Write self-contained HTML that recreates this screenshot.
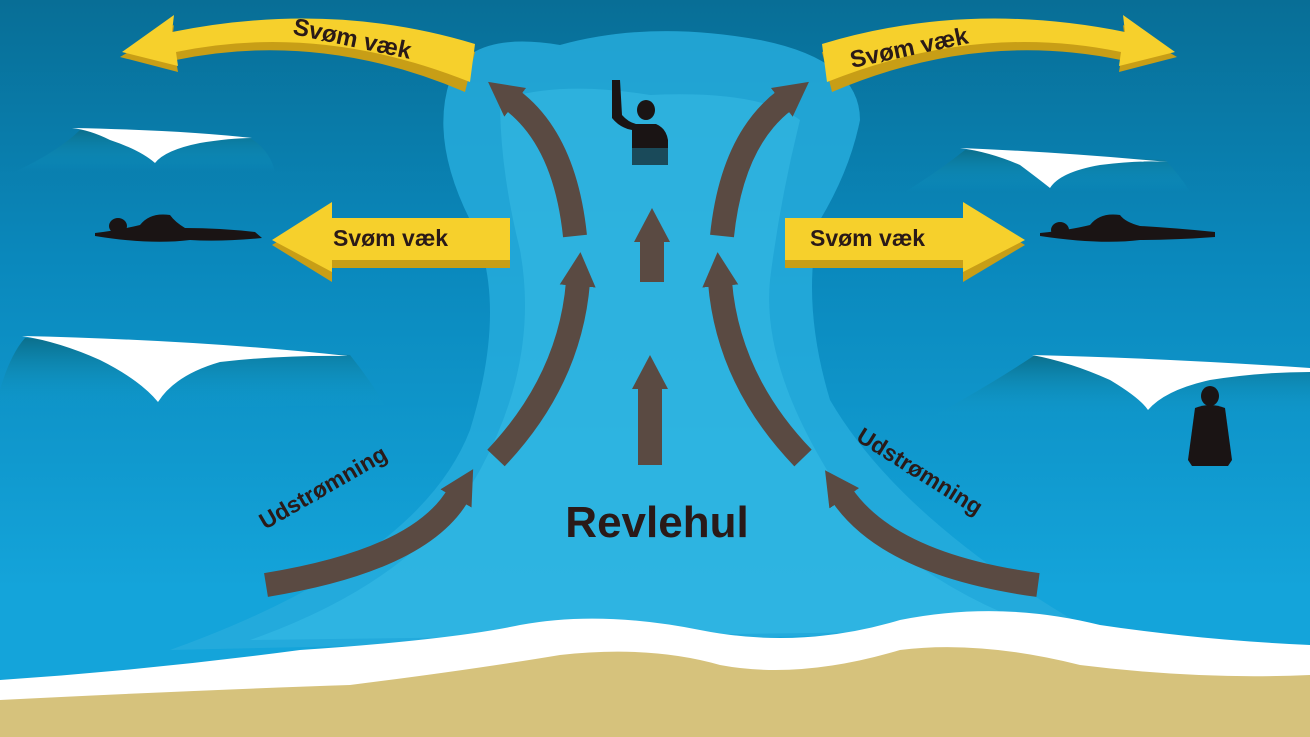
<!DOCTYPE html>
<html><head><meta charset="utf-8"><style>
html,body{margin:0;padding:0;width:1310px;height:737px;overflow:hidden}
svg{display:block}
text{font-family:"Liberation Sans","DejaVu Sans",sans-serif;font-weight:bold;fill:#2a1a18}
</style></head><body>
<svg width="1310" height="737" viewBox="0 0 1310 737" xmlns="http://www.w3.org/2000/svg">
<defs>
<linearGradient id="sea" x1="0" y1="0" x2="0" y2="1">
<stop offset="0" stop-color="#086e96"/>
<stop offset="0.35" stop-color="#0a88bc"/>
<stop offset="0.8" stop-color="#14a4da"/>
</linearGradient>
<linearGradient id="wv" x1="0" y1="0" x2="0" y2="1">
<stop offset="0" stop-color="#0b6f8c"/>
<stop offset="1" stop-color="#12a0d0" stop-opacity="0"/>
</linearGradient>
<marker id="ah" markerUnits="userSpaceOnUse" markerWidth="50" markerHeight="50" refX="4" refY="20" orient="auto">
<path d="M0,2 L34,20 L0,38 Z" fill="#5a4a42"/>
</marker>
</defs>
<rect width="1310" height="737" fill="url(#sea)"/>
<!-- rip channel -->
<path d="M450,80 Q470,30 560,45 Q650,20 760,40 Q860,60 860,120 Q850,170 820,220 Q800,300 830,400 Q900,520 1090,630 L170,650 Q420,560 470,430 Q510,300 470,220 Q430,140 450,80 Z" fill="#26acdc" opacity="0.85"/>
<path d="M500,100 Q560,80 650,95 Q760,90 800,120 Q780,200 770,280 Q760,380 860,520 Q950,600 1050,630 L250,640 Q420,580 480,470 Q540,360 520,250 Q500,170 500,100 Z" fill="#3cc0e8" opacity="0.45"/>
<!-- waves -->
<path d="M15,172 Q60,150 80,130 L250,138 Q270,150 275,172 Z" fill="url(#wv)"/>
<path d="M72,128 Q90,130 110,140 Q140,150 155,163 Q165,150 200,143 Q230,138 252,138 Q180,130 72,128 Z" fill="#fff"/>
<path d="M905,192 Q940,170 965,150 L1165,160 Q1180,175 1190,192 Z" fill="url(#wv)"/>
<path d="M960,148 Q990,152 1020,165 Q1040,180 1050,188 Q1060,172 1100,165 Q1140,160 1168,162 Q1060,152 960,148 Z" fill="#fff"/>
<path d="M0,390 Q10,355 25,338 L350,355 Q370,380 385,405 L0,410 Z" fill="url(#wv)"/>
<path d="M22,336 Q60,342 100,360 Q140,380 158,402 Q175,375 220,362 Q280,355 348,356 Q200,340 22,336 Z" fill="#fff"/>
<path d="M935,415 Q990,385 1035,355 L1310,370 L1310,420 Z" fill="url(#wv)"/>
<path d="M1032,355 Q1070,362 1110,380 Q1140,398 1148,410 Q1165,390 1210,380 Q1260,372 1310,372 L1310,368 Q1160,358 1032,355 Z" fill="#fff"/>
<!-- shore foam and sand -->
<path d="M0,680 Q150,670 300,650 Q450,640 520,625 Q600,610 700,630 Q800,650 900,620 Q1000,600 1100,625 Q1200,640 1310,645 L1310,737 L0,737 Z" fill="#fff"/>
<path d="M0,700 Q200,690 350,685 Q470,670 560,655 Q650,645 720,665 Q800,680 900,650 Q980,640 1080,665 Q1200,680 1310,675 L1310,737 L0,737 Z" fill="#d6c27c"/>
<!-- brown arrows -->
<g fill="none" stroke="#5a4a42" stroke-width="24" marker-end="url(#ah)">
<path d="M575,236 Q565,140 512,100"/>
<path d="M722,236 Q732,140 785,100"/>
<path d="M496,458 Q570,380 578,282"/>
<path d="M803,458 Q728,380 720,282"/>
<path d="M266,585 Q420,560 458,495"/>
<path d="M1038,585 Q890,565 842,495"/>
<path d="M652,282 L652,238"/>
<path d="M650,465 L650,385"/>
</g>
<!-- swimmers / people -->
<g fill="#1a1414">
<path d="M95,233 Q120,230 140,225 Q150,212 170,215 Q175,222 185,228 Q220,228 255,232 L262,238 Q220,242 190,240 Q150,245 95,236 Z"/>
<ellipse cx="118" cy="226" rx="9" ry="8"/>
<path d="M1040,233 Q1070,230 1090,225 Q1100,212 1120,215 Q1125,222 1140,226 Q1175,228 1215,232 L1215,237 Q1175,240 1140,240 Q1100,245 1040,236 Z"/>
<ellipse cx="1060" cy="230" rx="9" ry="8"/>
<path d="M612,80 L620,80 L622,115 Q628,122 636,124 L636,124 L656,124 Q666,128 668,140 L668,150 L632,150 L632,130 Q620,128 612,118 Z"/>
<rect x="632" y="148" width="36" height="17" fill="#1a4a5a"/>
<ellipse cx="646" cy="110" rx="9" ry="10"/>
<ellipse cx="1210" cy="396" rx="9" ry="10"/>
<path d="M1195,408 Q1210,402 1225,408 L1232,460 L1228,466 L1192,466 L1188,460 Z"/>
</g>
<!-- yellow arrows -->
<g>
<path d="M475,52 Q330,5 172,40 L174,25 L120,57 L178,72 L176,60 Q320,30 465,92 Z" fill="#c89e16"/>
<path d="M475,44 Q330,0 172,32 L174,15 L122,52 L178,66 L176,52 Q320,22 470,82 Z" fill="#f6d02c"/>
<path d="M822,52 Q967,5 1125,40 L1123,25 L1177,57 L1119,72 L1121,60 Q977,30 832,92 Z" fill="#c89e16"/>
<path d="M822,44 Q967,0 1125,32 L1123,15 L1175,52 L1119,66 L1121,52 Q977,22 827,82 Z" fill="#f6d02c"/>
<path d="M510,228 L332,228 L332,208 L272,245 L332,282 L332,268 L510,268 Z" fill="#c89e16"/>
<path d="M510,218 L332,218 L332,202 L272,240 L332,272 L332,260 L510,260 Z" fill="#f6d02c"/>
<path d="M785,228 L963,228 L963,208 L1025,245 L963,282 L963,268 L785,268 Z" fill="#c89e16"/>
<path d="M785,218 L963,218 L963,202 L1025,240 L963,272 L963,260 L785,260 Z" fill="#f6d02c"/>
</g>
<text x="0" y="0" font-size="24" transform="translate(292,34) rotate(12)">Svøm væk</text>
<text x="0" y="0" font-size="24" transform="translate(852,68) rotate(-12)">Svøm væk</text>
<text x="333" y="246" font-size="23">Svøm væk</text>
<text x="810" y="246" font-size="23">Svøm væk</text>
<text x="657" y="537" font-size="44" text-anchor="middle">Revlehul</text>
<text font-size="23" transform="translate(265,530) rotate(-30)">Udstrømning</text>
<text font-size="23" transform="translate(855,440) rotate(32)">Udstrømning</text>
</svg>
</body></html>
